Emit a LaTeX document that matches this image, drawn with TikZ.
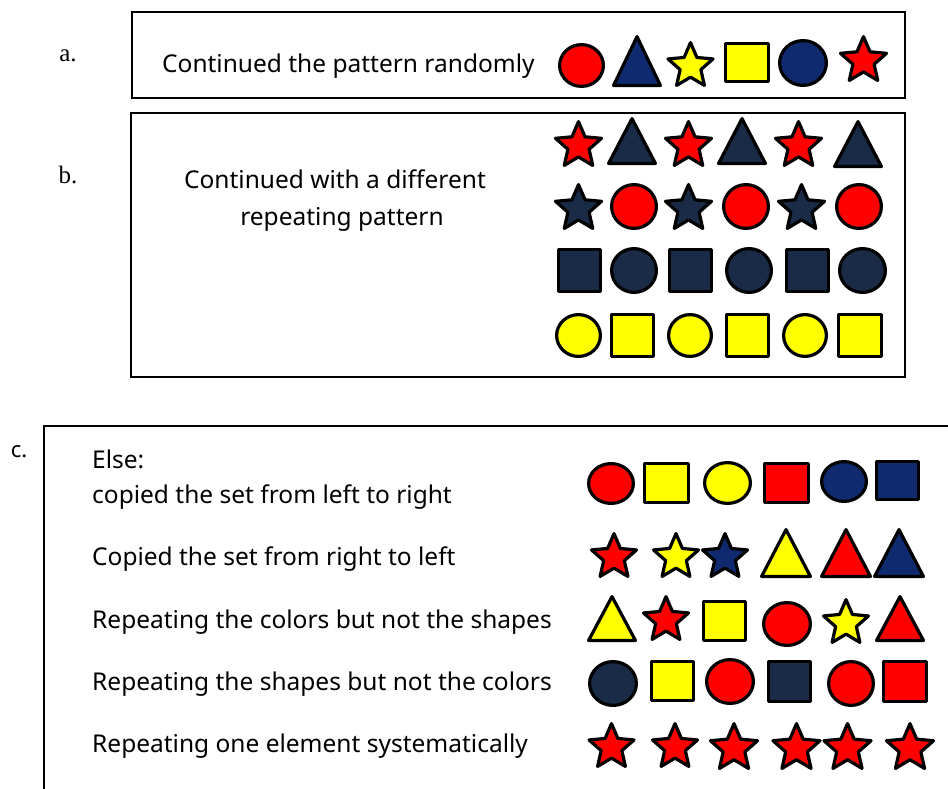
\documentclass[tikz,border=0pt]{standalone}
\usepackage{fontspec}
\setmainfont{Noto Sans}
\newfontfamily\serifl{Liberation Serif}
\definecolor{cRed}{HTML}{FF0000}
\definecolor{cYel}{HTML}{FFFF00}
\definecolor{cNavy}{HTML}{0F2A6E}
\definecolor{cSlate}{HTML}{1A2B47}
\tikzset{
  shp/.style={draw=black,line width=3.2pt,line join=round},
  txt/.style={font=\fontsize{24.5}{29}\selectfont, anchor=base west, inner sep=0pt},
  txtc/.style={font=\fontsize{24.5}{29}\selectfont, anchor=base, inner sep=0pt},
  lbl/.style={font=\serifl\fontsize{25}{30}\selectfont, inner sep=0pt},
  panel/.style={draw=black,line width=2.6pt}
}
% bbox-based shapes: x1,y1,x2,y2,colour
\newcommand\ShC[5]{%
  \pgfmathsetmacro\ShA{(#3-#1)/2-1.6}\pgfmathsetmacro\ShB{(#4-#2)/2-1.6}%
  \filldraw[shp,fill=#5] ({(#1+#3)/2},{(#2+#4)/2}) ellipse [x radius=\ShA pt, y radius=\ShB pt];}
\newcommand\ShQ[5]{%
  \filldraw[shp,fill=#5] ({#1+1.6},{#2+1.6}) rectangle ({#3-1.6},{#4-1.6});}
\newcommand\ShT[5]{%
  \filldraw[shp,fill=#5] ({#1+1.6},{#4-1.6}) -- ({(#1+#3)/2},{#2+1.6}) -- ({#3-1.6},{#4-1.6}) -- cycle;}
\newcommand\ShS[5]{%
  \pgfmathsetmacro\ShR{(#4-#2-3.2)/1.809}\pgfmathsetmacro\ShRi{0.46*\ShR}%
  \pgfmathsetmacro\ShX{(#1+#3)/2}\pgfmathsetmacro\ShY{#2+1.6+\ShR}%
  \begin{scope}[shift={(\ShX,\ShY)}]
  \filldraw[shp,fill=#5] (-90:\ShR) -- (-54:\ShRi) -- (-18:\ShR) -- (18:\ShRi) -- (54:\ShR) -- (90:\ShRi) -- (126:\ShR) -- (162:\ShRi) -- (198:\ShR) -- (234:\ShRi) -- cycle;
  \end{scope}}
\begin{document}
\begin{tikzpicture}[x=1pt,y=-1pt]
\useasboundingbox[fill=white] (0,0) rectangle (948,788);
% panels
\draw[panel] (132,12) rectangle (905,98);
\draw[panel] (131,113) rectangle (905,377);
\draw[panel] (44,800) -- (44,426) -- (960,426);
% labels
\node[lbl] (la) at (68,56) {a.};
\node[lbl] (lb) at (68,175) {b.};
\node[font=\fontsize{22}{26}\selectfont, inner sep=0pt] (lc) at (19,452) {c.};
% texts
\node[txt] (ta) at (162,72) {Continued the pattern randomly};
\node[txtc] (tb1) at (335,188) {Continued with a different};
\node[txtc] (tb2) at (342,225) {repeating pattern};
\node[txt] (tc0) at (92,468) {Else:};
\node[txt] (tc1) at (92,503) {copied the set from left to right};
\node[txt] (tc2) at (92,565) {Copied the set from right to left};
\node[txt] (tc3) at (92,628) {Repeating the colors but not the shapes};
\node[txt] (tc4) at (92,690) {Repeating the shapes but not the colors};
\node[txt] (tc5) at (92,752) {Repeating one element systematically};
% panel a shapes
\ShC{558}{43}{605}{88}{cRed}
\ShT{612}{35}{662}{87}{cNavy}
\ShS{667}{41}{714}{87}{cYel}
\ShQ{724}{42}{770}{83}{cYel}
\ShC{778}{39}{828}{87}{cNavy}
\ShS{840}{35}{887}{82}{cRed}
% panel b shapes
\ShS{555}{120}{602}{167}{cRed}
\ShT{607}{117}{657}{165}{cSlate}
\ShS{665}{120}{712}{167}{cRed}
\ShT{717}{117}{767}{165}{cSlate}
\ShS{775}{120}{822}{167}{cRed}
\ShT{833}{120}{883}{168}{cSlate}
\ShS{555}{183}{602}{230}{cSlate}
\ShC{610}{183}{658}{230}{cRed}
\ShS{665}{183}{712}{230}{cSlate}
\ShC{722}{183}{770}{230}{cRed}
\ShS{778}{183}{825}{230}{cSlate}
\ShC{835}{183}{883}{230}{cRed}
\ShQ{557}{248}{602}{293}{cSlate}
\ShC{610}{247}{658}{294}{cSlate}
\ShQ{668}{248}{713}{293}{cSlate}
\ShC{725}{247}{773}{294}{cSlate}
\ShQ{785}{248}{830}{293}{cSlate}
\ShC{838}{247}{887}{294}{cSlate}
\ShC{555}{313}{602}{358}{cYel}
\ShQ{610}{313}{655}{358}{cYel}
\ShC{667}{313}{713}{358}{cYel}
\ShQ{725}{313}{770}{358}{cYel}
\ShC{782}{313}{828}{358}{cYel}
\ShQ{837}{313}{883}{358}{cYel}
% panel c row 1
\ShC{587}{462}{635}{505}{cRed}
\ShQ{643}{462}{690}{504}{cYel}
\ShC{703}{461}{752}{505}{cYel}
\ShQ{763}{462}{810}{504}{cRed}
\ShC{820}{460}{868}{503}{cNavy}
\ShQ{875}{460}{920}{501}{cNavy}
% row 2
\ShS{590}{532}{638}{578}{cRed}
\ShS{652}{532}{700}{578}{cYel}
\ShS{702}{532}{748}{578}{cNavy}
\ShT{760}{528}{812}{578}{cYel}
\ShT{820}{528}{872}{578}{cRed}
\ShT{873}{528}{925}{578}{cNavy}
% row 3
\ShT{587}{595}{637}{642}{cYel}
\ShS{642}{595}{690}{641}{cRed}
\ShQ{702}{600}{747}{642}{cYel}
\ShC{762}{601}{812}{647}{cRed}
\ShS{822}{598}{870}{644}{cYel}
\ShT{875}{595}{925}{642}{cRed}
% row 4
\ShC{588}{660}{638}{707}{cSlate}
\ShQ{650}{660}{695}{702}{cYel}
\ShC{705}{658}{755}{705}{cRed}
\ShQ{767}{660}{812}{703}{cSlate}
\ShC{827}{660}{875}{707}{cRed}
\ShQ{882}{660}{928}{703}{cRed}
% row 5
\ShS{588}{722}{635}{768}{cRed}
\ShS{652}{722}{698}{768}{cRed}
\ShS{710}{722}{758}{770}{cRed}
\ShS{773}{722}{820}{770}{cRed}
\ShS{823}{722}{872}{770}{cRed}
\ShS{887}{722}{933}{770}{cRed}
\end{tikzpicture}
\end{document}
